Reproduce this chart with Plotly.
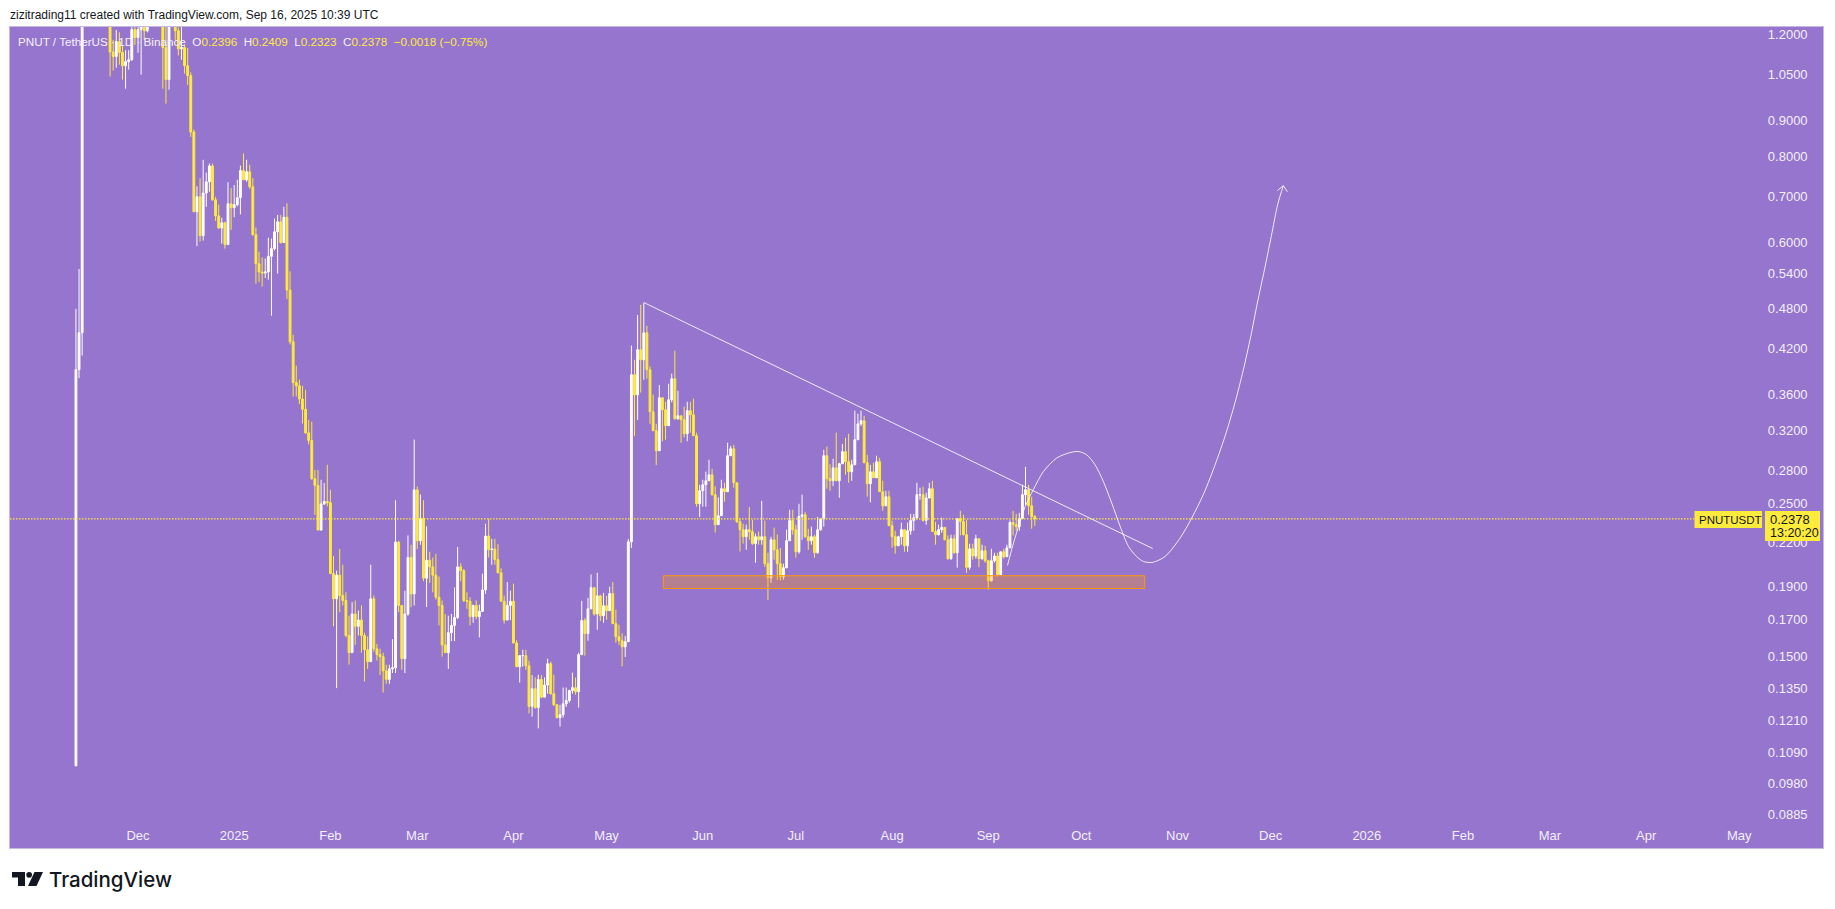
import math
import pandas as pd
import plotly.graph_objects as go

FIRST_OPEN = 0.1041
START = "2024-11-11"

closes = [
0.3916,0.4430,1.50,1.62,1.95,2.10,1.80,1.70,1.55,1.45,
1.38,1.133,1.116,1.173,1.131,1.082,1.097,1.104,1.221,1.189,
1.221,1.27,1.216,1.28,1.36,1.42,1.38,1.30,1.150,1.033,
1.30,1.26,1.216,1.145,1.150,1.082,1.047,0.867,0.664,0.698,
0.613,0.707,0.734,0.774,0.691,0.655,0.629,0.640,0.595,0.682,
0.673,0.680,0.696,0.762,0.739,0.759,0.722,0.615,0.558,0.543,
0.541,0.543,0.572,0.587,0.621,0.642,0.599,0.652,0.511,0.430,
0.375,0.371,0.355,0.343,0.317,0.309,0.272,0.266,0.229,0.250,
0.252,0.251,0.198,0.182,0.197,0.184,0.181,0.161,0.152,0.173,
0.166,0.1695,0.161,0.1535,0.1475,0.182,0.154,0.151,0.150,0.143,
0.139,0.144,0.1445,0.220,0.178,0.149,0.173,0.209,0.185,0.262,
0.221,0.238,0.195,0.207,0.2025,0.197,0.183,0.178,0.156,0.152,
0.1625,0.1665,0.171,0.2025,0.200,0.181,0.1805,0.1715,0.178,0.1715,
0.1745,0.1875,0.2245,0.2145,0.215,0.2075,0.1985,0.1805,0.1695,0.178,
0.1805,0.157,0.145,0.1505,0.1505,0.1455,0.127,0.1347,0.1265,0.139,
0.131,0.1364,0.1465,0.1325,0.1277,0.1223,0.1235,0.1281,0.1295,0.1339,
0.1352,0.1334,0.151,0.1692,0.162,0.176,0.1889,0.173,0.1838,0.172,
0.1778,0.1749,0.1852,0.1675,0.1603,0.1582,0.155,0.1577,0.2202,0.385,
0.360,0.4186,0.4048,0.443,0.3915,0.3402,0.3193,0.2986,0.3565,0.3425,
0.3247,0.3541,0.3798,0.3323,0.3356,0.3312,0.3161,0.3414,0.3368,0.3140,
0.2501,0.2612,0.2665,0.2701,0.2755,0.2578,0.2332,0.2403,0.2630,0.2604,
0.2937,0.3006,0.2683,0.2355,0.2293,0.2240,0.2293,0.2278,0.2189,0.2240,
0.2217,0.2240,0.2047,0.1953,0.2217,0.2144,0.2047,0.1959,0.2020,0.2210,
0.2364,0.2293,0.2130,0.2397,0.2411,0.2240,0.2210,0.2240,0.2123,0.2293,
0.2378,0.2937,0.2719,0.2701,0.2820,0.2701,0.2859,0.2977,0.2878,0.2783,
0.2849,0.3098,0.3267,0.3301,0.2868,0.2674,0.2783,0.2728,0.2878,0.2604,
0.2484,0.2560,0.2324,0.2240,0.2173,0.2240,0.2293,0.2173,0.2285,0.2364,
0.2387,0.2578,0.2578,0.2366,0.2550,0.2630,0.2280,0.2255,0.2293,0.2311,
0.2217,0.2081,0.2225,0.2123,0.2378,0.2358,0.2255,0.2022,0.2151,0.2100,
0.2225,0.2081,0.2137,0.2067,0.1933,0.2067,0.2100,0.1973,0.2130,0.2095,
0.2158,0.2349,0.2332,0.2317,0.2380,0.2578,0.2621,0.2484,0.2396,0.2378,
]

highs = [
0.48,0.5484,2.2,1.9,2.2,2.5,2.3,2.0,1.9,1.7,
1.6,1.45,1.18,1.22,1.21,1.16,1.14,1.14,1.30,1.28,
1.27,1.32,1.30,1.32,1.44,1.5,1.46,1.42,1.34,1.25,
1.34,1.33,1.28,1.23,1.25,1.16,1.148,1.058,0.874,0.723,
0.743,0.790,0.757,0.780,0.780,0.698,0.680,0.651,0.642,0.733,
0.719,0.726,0.739,0.775,0.807,0.790,0.777,0.743,0.630,0.581,
0.570,0.568,0.609,0.607,0.649,0.657,0.657,0.675,0.683,0.544,
0.440,0.397,0.379,0.371,0.366,0.331,0.329,0.280,0.280,0.271,
0.268,0.285,0.262,0.210,0.200,0.215,0.204,0.186,0.172,0.180,
0.181,0.175,0.178,0.1625,0.1605,0.204,0.184,0.1565,0.154,0.152,
0.146,0.146,0.159,0.253,0.221,0.178,0.187,0.225,0.218,0.310,
0.265,0.258,0.253,0.232,0.213,0.209,0.2115,0.196,0.181,0.173,
0.172,0.173,0.189,0.2165,0.205,0.201,0.186,0.183,0.1785,0.181,
0.1785,0.198,0.234,0.238,0.2225,0.2225,0.2185,0.2015,0.184,0.1925,
0.187,0.1915,0.1585,0.1505,0.1535,0.1535,0.148,0.141,0.140,0.1412,
0.141,0.140,0.149,0.1475,0.1412,0.128,0.1277,0.1353,0.1353,0.1343,
0.1422,0.1399,0.152,0.1808,0.1707,0.1826,0.1975,0.1889,0.1986,0.1845,
0.1857,0.1838,0.1895,0.1925,0.1755,0.1669,0.1622,0.1608,0.2223,0.4246,
0.4048,0.4703,0.4866,0.4900,0.4535,0.396,0.3603,0.3268,0.3720,0.3565,
0.3517,0.3736,0.3865,0.4172,0.3650,0.3356,0.3460,0.3517,0.3517,0.3553,
0.3172,0.2665,0.271,0.2785,0.2897,0.2811,0.2652,0.2555,0.2710,0.2683,
0.3067,0.3035,0.3045,0.2683,0.2378,0.2340,0.2332,0.2474,0.2371,0.2263,
0.2278,0.2525,0.2364,0.2123,0.2240,0.2309,0.2257,0.2158,0.2047,0.2293,
0.2451,0.2451,0.2332,0.2501,0.2578,0.2435,0.2300,0.2317,0.2255,0.2394,
0.2385,0.2996,0.3027,0.2854,0.2907,0.3172,0.2869,0.3055,0.3119,0.3161,
0.2897,0.3414,0.3379,0.3414,0.3356,0.2946,0.2849,0.2868,0.2937,0.2916,
0.2701,0.2612,0.2612,0.2364,0.2285,0.2247,0.2348,0.2293,0.2348,0.2418,
0.2418,0.2683,0.2639,0.2648,0.2595,0.2683,0.2701,0.2355,0.2332,0.2387,
0.2300,0.2250,0.2255,0.2255,0.2378,0.2443,0.2411,0.2371,0.2188,0.2188,
0.2255,0.2225,0.2181,0.2173,0.2074,0.2151,0.2123,0.2123,0.2130,0.2151,
0.2181,0.2366,0.2443,0.2418,0.2426,0.2665,0.2830,0.2665,0.2560,0.2409,
]

lows = [
0.1041,0.3806,0.4105,1.35,1.55,1.7,1.65,1.55,1.45,1.35,
1.28,1.044,1.065,1.075,1.086,1.033,1.002,1.068,1.10,1.16,
1.13,1.05,1.18,1.21,1.26,1.33,1.32,1.26,1.002,0.953,
0.999,1.24,1.18,1.12,1.104,1.054,1.015,0.853,0.664,0.592,
0.601,0.603,0.675,0.710,0.689,0.644,0.627,0.597,0.587,0.595,
0.625,0.652,0.676,0.658,0.739,0.734,0.717,0.613,0.522,0.525,
0.517,0.532,0.529,0.469,0.583,0.540,0.597,0.599,0.496,0.426,
0.358,0.358,0.349,0.327,0.316,0.305,0.271,0.241,0.229,0.229,
0.249,0.248,0.198,0.166,0.135,0.174,0.178,0.160,0.146,0.152,
0.156,0.161,0.152,0.138,0.144,0.1475,0.1525,0.148,0.141,0.133,
0.137,0.137,0.142,0.142,0.174,0.1435,0.142,0.172,0.177,0.178,
0.215,0.218,0.193,0.177,0.192,0.186,0.1815,0.1665,0.150,0.152,
0.144,0.158,0.158,0.170,0.193,0.180,0.176,0.1665,0.168,0.170,
0.160,0.1745,0.185,0.209,0.204,0.204,0.1985,0.1805,0.1675,0.1695,
0.1695,0.157,0.145,0.1375,0.145,0.1435,0.124,0.1227,0.126,0.118,
0.1305,0.131,0.1325,0.132,0.1272,0.122,0.1187,0.1223,0.1268,0.1286,
0.1325,0.132,0.1265,0.151,0.1505,0.1582,0.176,0.172,0.1641,0.169,
0.168,0.1697,0.1749,0.1675,0.1572,0.156,0.1452,0.1498,0.1577,0.2158,
0.3135,0.331,0.3627,0.3786,0.380,0.3268,0.3193,0.2846,0.2986,0.3082,
0.3098,0.3247,0.351,0.3312,0.3312,0.3067,0.3122,0.3082,0.3172,0.3140,
0.2476,0.2393,0.2476,0.2476,0.2701,0.2570,0.2271,0.2332,0.2403,0.2518,
0.2604,0.2937,0.2639,0.2345,0.2132,0.2189,0.2144,0.2217,0.2180,0.2053,
0.2181,0.2181,0.2026,0.1814,0.1920,0.2074,0.1940,0.1934,0.1940,0.2015,
0.2210,0.2255,0.2088,0.2116,0.2217,0.2232,0.2144,0.2181,0.2088,0.2116,
0.2285,0.2317,0.2630,0.2612,0.2652,0.2701,0.2552,0.2859,0.2755,0.2683,
0.2701,0.2849,0.3098,0.3245,0.2868,0.2561,0.2513,0.2728,0.2728,0.2604,
0.2443,0.2484,0.2324,0.2158,0.2116,0.2173,0.2181,0.2130,0.2130,0.2255,
0.2285,0.2371,0.2535,0.2355,0.2332,0.2550,0.2280,0.2181,0.2250,0.2270,
0.2217,0.2074,0.2074,0.2116,0.2020,0.2250,0.2250,0.1985,0.2006,0.2074,
0.2081,0.2022,0.2074,0.2053,0.1876,0.1928,0.2053,0.1962,0.1973,0.2081,
0.2095,0.2158,0.2250,0.2285,0.2285,0.2380,0.2493,0.2411,0.2300,0.2323,
]

month_ticks = ["2024-12-01","2025-01-01","2025-02-01","2025-03-01","2025-04-01","2025-05-01",
               "2025-06-01","2025-07-01","2025-08-01","2025-09-01","2025-10-01","2025-11-01",
               "2025-12-01","2026-01-01","2026-02-01","2026-03-01","2026-04-01","2026-05-01"]
month_labels = ["Dec","2025","Feb","Mar","Apr","May","Jun","Jul","Aug","Sep","Oct","Nov",
                "Dec","2026","Feb","Mar","Apr","May"]
price_ticks = [1.2,1.05,0.9,0.8,0.7,0.6,0.54,0.48,0.42,0.36,0.32,0.28,0.25,0.22,0.19,0.17,
               0.15,0.135,0.121,0.109,0.098,0.0885]
price_labels = ["1.2000","1.0500","0.9000","0.8000","0.7000","0.6000","0.5400","0.4800","0.4200",
                "0.3600","0.3200","0.2800","0.2500","0.2200","0.1900","0.1700","0.1500","0.1350",
                "0.1210","0.1090","0.0980","0.0885"]

trend_x = ["2025-05-13 02:00","2025-10-24 00:00"]
trend_y = [0.4900,0.2153]

curve_x = ["2025-09-07 05:00","2025-09-09 03:00","2025-09-12 22:00","2025-09-15 12:00","2025-09-18 19:00",
           "2025-09-23 01:00","2025-09-26 20:00","2025-09-30 00:00","2025-10-02 17:00","2025-10-05 10:00",
           "2025-10-08 02:00","2025-10-10 19:00","2025-10-13 12:00","2025-10-16 05:00","2025-10-18 19:00",
           "2025-10-21 00:00","2025-10-24 00:00","2025-10-28 00:00","2025-11-01 19:00","2025-11-05 14:00",
           "2025-11-09 07:00","2025-11-12 12:00","2025-11-16 07:00","2025-11-19 12:00","2025-11-22 05:00",
           "2025-11-24 14:00","2025-11-26 17:00","2025-11-29 00:00","2025-12-01 05:00","2025-12-03 07:00",
           "2025-12-05 02:00"]
curve_y = [0.2035,0.2193,0.2478,0.2621,0.2786,0.2914,0.2963,0.2979,0.2946,0.2849,0.2695,0.2507,
           0.2319,0.2168,0.2097,0.2062,0.2056,0.2097,0.2229,0.2385,0.2578,0.2802,0.3133,0.3506,
           0.3915,0.4375,0.4893,0.5470,0.6117,0.6810,0.7245]
arrow_x = ["2025-12-03 05:00","2025-12-05 02:00","2025-12-06 10:00"]
arrow_y = [0.7130,0.7245,0.7098]

zone_x = ["2025-05-19 07:00","2025-10-21 10:00","2025-10-21 10:00","2025-05-19 07:00","2025-05-19 07:00"]
zone_y = [0.1966,0.1966,0.1884,0.1884,0.1966]

last_x = ["2024-10-20 18:00","2026-04-16 12:00"]
last_y = [0.2378,0.2378]

X_RANGE = ["2024-10-20 18:00","2026-05-28 00:00"]
Y_RANGE = [0.0791,1.2317]

BG = "#9575CD"
YEL = "#FFEB3B"
WHITE = "#FFFFFF"
LINE = "rgba(255,255,255,0.85)"
AXTXT = "#F3EFFB"

dates = pd.date_range(START, periods=len(closes), freq="D")
opens = [FIRST_OPEN] + closes[:-1]

W, H = 1835, 909
L, R, T, B = 10, 1823, 27, 848
def pxx(v): return (v - L) / (R - L)
def pxy(v): return (B - v) / (B - T)

fig = go.Figure()
fig.add_trace(go.Scatter(x=last_x, y=last_y, mode="lines",
                         line=dict(color=YEL, width=1.3, dash="1.5px,1.5px"), hoverinfo="skip"))
fig.add_trace(go.Candlestick(
    x=dates, open=opens, high=highs, low=lows, close=closes,
    increasing=dict(line=dict(color=WHITE, width=1), fillcolor=WHITE),
    decreasing=dict(line=dict(color=YEL, width=1), fillcolor=YEL),
    hoverinfo="skip"))
fig.add_trace(go.Scatter(x=zone_x, y=zone_y, mode="lines", fill="toself",
                         fillcolor="rgba(255,152,0,0.30)",
                         line=dict(color="#FF9800", width=1), hoverinfo="skip"))
fig.add_trace(go.Scatter(x=trend_x, y=trend_y, mode="lines",
                         line=dict(color=LINE, width=1), hoverinfo="skip"))
fig.add_trace(go.Scatter(x=curve_x, y=curve_y, mode="lines",
                         line=dict(color=LINE, width=1, shape="spline", smoothing=0.8), hoverinfo="skip"))
fig.add_trace(go.Scatter(x=arrow_x, y=arrow_y, mode="lines",
                         line=dict(color=LINE, width=1), hoverinfo="skip"))

def text(s, x, y, size, color, anchor="left", family="Liberation Sans", weight=None):
    font = dict(size=size, color=color, family=family)
    if weight:
        font["weight"] = weight
    return dict(text=s, xref="paper", yref="paper", x=pxx(x), y=pxy(y), showarrow=False,
                xanchor=anchor, yanchor="middle", align=anchor,
                font=font, borderpad=0, borderwidth=0)

lab = "#F5F1FC"
val = YEL
legend = (f'<span style="color:{lab}">PNUT / TetherUS · 1D · Binance  O</span>'
          f'<span style="color:{val}">0.2396</span><span style="color:{lab}">  H</span>'
          f'<span style="color:{val}">0.2409</span><span style="color:{lab}">  L</span>'
          f'<span style="color:{val}">0.2323</span><span style="color:{lab}">  C</span>'
          f'<span style="color:{val}">0.2378  −0.0018 (−0.75%)</span>')

annotations = [
    text("zizitrading11 created with TradingView.com, Sep 16, 2025 10:39 UTC", 10, 15, 12, "#131722"),
    text(legend, 18, 41.5, 11.7, lab),
    text("PNUTUSDT", 1699, 519.5, 11.5, "#131722"),
    text("0.2378", 1770, 519.5, 13, "#131722"),
    text("13:20:20", 1770, 533, 12.5, "#131722"),
    text("TradingView", 49, 879, 20.5, "#131722", family="Inter", weight=500),
]

def box(x0, y0, x1, y1, color):
    return dict(type="rect", xref="paper", yref="paper", x0=pxx(x0), x1=pxx(x1), y0=pxy(y0), y1=pxy(y1),
                fillcolor=color, line=dict(width=0), layer="above")

def path(pts):
    d = "M " + " L ".join(f"{pxx(a):.5f},{pxy(b):.5f}" for a, b in pts) + " Z"
    return dict(type="path", xref="paper", yref="paper", path=d, fillcolor="#131722",
                line=dict(width=0), layer="above")

shapes = [
    box(1694.5, 511, 1762, 528, YEL),
    box(1765, 511, 1820, 541, YEL),
    path([(12, 872), (25, 872), (25, 886), (18, 886), (18, 877.5), (12, 877.5)]),
    path([(34.5, 872), (43, 872), (36.5, 886), (28, 886)]),
    dict(type="circle", xref="paper", yref="paper", x0=pxx(26.3), x1=pxx(32), y0=pxy(872), y1=pxy(877.7),
         fillcolor="#131722", line=dict(width=0), layer="above"),
]

fig.update_layout(
    width=W, height=H, autosize=False, showlegend=False,
    margin=dict(l=L, r=W - R, t=T, b=H - B, pad=0),
    paper_bgcolor="#FFFFFF", plot_bgcolor=BG, hovermode=False, dragmode=False,
    annotations=annotations, shapes=shapes, boxgap=0.15,
    font=dict(family="Liberation Sans", size=13, color=AXTXT),
    xaxis=dict(type="date", range=X_RANGE, rangeslider=dict(visible=False),
               tickmode="array", tickvals=month_ticks, ticktext=month_labels,
               ticklabelposition="inside", ticks="inside", ticklen=5, tickcolor="rgba(0,0,0,0)",
               tickangle=0, showgrid=False, zeroline=False, showline=True, mirror=True,
               linecolor="#C6B9E4", linewidth=1, tickfont=dict(size=13, color=AXTXT)),
    yaxis=dict(type="log", side="right", range=[math.log10(Y_RANGE[0]), math.log10(Y_RANGE[1])],
               tickmode="array", tickvals=price_ticks, ticktext=price_labels,
               ticklabelposition="inside", ticks="inside", ticklen=15, tickcolor="rgba(0,0,0,0)",
               showgrid=False, zeroline=False, showline=True, mirror=True,
               linecolor="#C6B9E4", linewidth=1, tickfont=dict(size=13, color=AXTXT)),
)

fig.write_html("out.html", config=dict(displayModeBar=False, staticPlot=True),
               post_script="document.body.style.margin='0';document.body.style.overflow='hidden';")
